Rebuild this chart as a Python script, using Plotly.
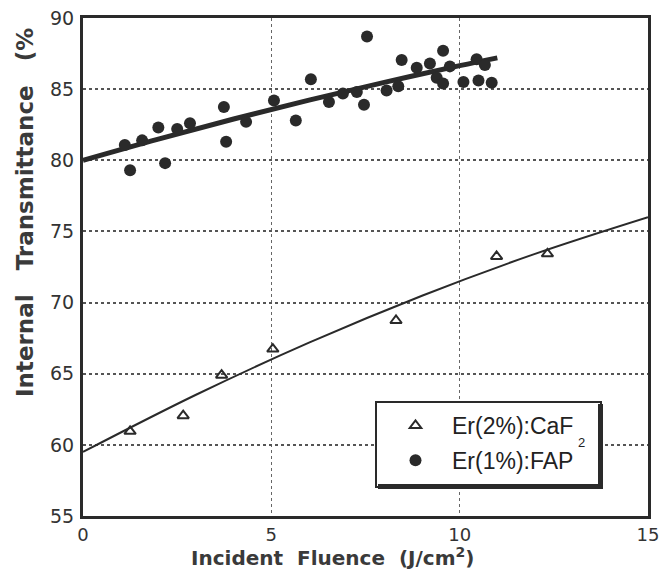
import plotly.graph_objects as go

# Er(2%):CaF2 data (open triangles)
caf_x = [1.25, 2.66, 3.68, 5.04, 8.31, 10.98, 12.33]
caf_y = [60.95, 62.05, 64.9, 66.73, 68.74, 73.24, 73.43]

# Er(1%):FAP data (filled circles)
fap_x = [1.11, 1.25, 1.57, 2.0, 2.18, 2.5, 2.84, 3.74, 3.8, 4.33, 5.07, 5.65,
         6.05, 6.53, 6.9, 7.27, 7.46, 7.54, 8.06, 8.37, 8.46, 8.86, 9.21, 9.39,
         9.56, 9.56, 9.74, 10.1, 10.45, 10.5, 10.67, 10.85]
fap_y = [81.08, 79.3, 81.4, 82.3, 79.8, 82.2, 82.6, 83.75, 81.3, 82.7, 84.2, 82.8,
         85.7, 84.1, 84.7, 84.8, 83.9, 88.7, 84.9, 85.2, 87.05, 86.5, 86.8, 85.8,
         87.7, 85.4, 86.6, 85.5, 87.1, 85.6, 86.7, 85.45]

# Fitted curves
caf_fit_x = [0, 3, 6, 9, 12, 15]
caf_fit_y = [59.5, 63.52, 67.18, 70.48, 73.42, 76.0]
fap_fit_x = [0, 2, 4, 6, 8, 10, 11]
fap_fit_y = [80.0, 81.49, 82.9, 84.23, 85.48, 86.65, 87.2]

x_ticks = [0, 5, 10, 15]
y_ticks = [55, 60, 65, 70, 75, 80, 85, 90]

ink = "#2a2a2a"
font_family = "DejaVu Sans"

# plot area in pixels: left 83, right 648, top 18, bottom 516
L, R, T, B = 83, 648, 18, 516
def px(xp):
    return (xp - L) / (R - L)
def py(yp):
    return (B - yp) / (B - T)

fig = go.Figure()
fig.add_trace(go.Scatter(x=caf_fit_x, y=caf_fit_y, mode="lines", line=dict(color=ink, width=2, shape="spline"),
                         showlegend=False, hoverinfo="skip"))
fig.add_trace(go.Scatter(x=fap_fit_x, y=fap_fit_y, mode="lines", line=dict(color=ink, width=5, shape="spline"),
                         showlegend=False, hoverinfo="skip"))
fig.add_trace(go.Scatter(x=caf_x, y=caf_y, mode="markers", name="Er(2%):CaF", legendgroup="a",
                         marker=dict(symbol="triangle-up-open", size=10, color=ink, line=dict(width=2, color=ink))))
fig.add_trace(go.Scatter(x=fap_x, y=fap_y, mode="markers", name="Er(1%):FAP", legendgroup="b",
                         marker=dict(symbol="circle", size=12, color=ink)))

shapes = [
    dict(type="rect", xref="paper", yref="paper", x0=px(376), x1=px(601), y0=py(487), y1=py(402),
         line=dict(color=ink, width=2), fillcolor="white", layer="above"),
    dict(type="line", xref="paper", yref="paper", x0=px(378), x1=px(603), y0=py(486.5), y1=py(486.5),
         line=dict(color=ink, width=5), layer="above"),
    dict(type="line", xref="paper", yref="paper", x0=px(600.5), x1=px(600.5), y0=py(488), y1=py(404),
         line=dict(color=ink, width=5), layer="above"),
]

fig.update_layout(
    width=662, height=572,
    margin=dict(l=L, r=662 - R, t=T, b=572 - B, autoexpand=False),
    plot_bgcolor="white", paper_bgcolor="white",
    font=dict(family=font_family, color="#333"),
    legend=dict(x=px(379), y=py(404), xanchor="left", yanchor="top",
                bgcolor="rgba(0,0,0,0)", borderwidth=0,
                font=dict(size=23, color="#222", family="Liberation Sans"),
                tracegroupgap=2, itemwidth=63),
    shapes=shapes,
    xaxis=dict(range=[0, 15], tickvals=x_ticks, ticks="", showgrid=True,
               gridcolor="#666", griddash="dot", gridwidth=1,
               showline=True, linecolor=ink, linewidth=3, mirror=True,
               tickfont=dict(size=18, color="#333"), zeroline=False, automargin=False),
    yaxis=dict(range=[55, 90], tickvals=y_ticks, ticks="", showgrid=True,
               gridcolor="#555", griddash="dot", gridwidth=2,
               showline=True, linecolor=ink, linewidth=3, mirror=True,
               tickfont=dict(size=19, color="#333"), zeroline=False, ticklabelstandoff=2,
               automargin=False),
    annotations=[
        dict(text="Incident\u00a0 Fluence\u00a0 (J/cm<sup>2</sup>)", xref="paper", yref="paper",
             x=px(332), y=py(557), xanchor="center", yanchor="middle", showarrow=False,
             font=dict(size=20, color="#3a3a3a", family=font_family, weight="bold")),
        dict(text="Internal\u00a0\u00a0 Transmittance\u00a0\u00a0 (%", xref="paper", yref="paper",
             x=px(25), y=py(213), xanchor="center", yanchor="middle", textangle=-90, showarrow=False,
             font=dict(size=23, color="#3a3a3a", family=font_family, weight="bold")),
        dict(text="2", xref="paper", yref="paper", x=px(581), y=py(442), showarrow=False,
             xanchor="center", yanchor="middle",
             font=dict(size=13, color="#222", family="Liberation Sans")),
    ],
)
fig.write_html("out.html")
